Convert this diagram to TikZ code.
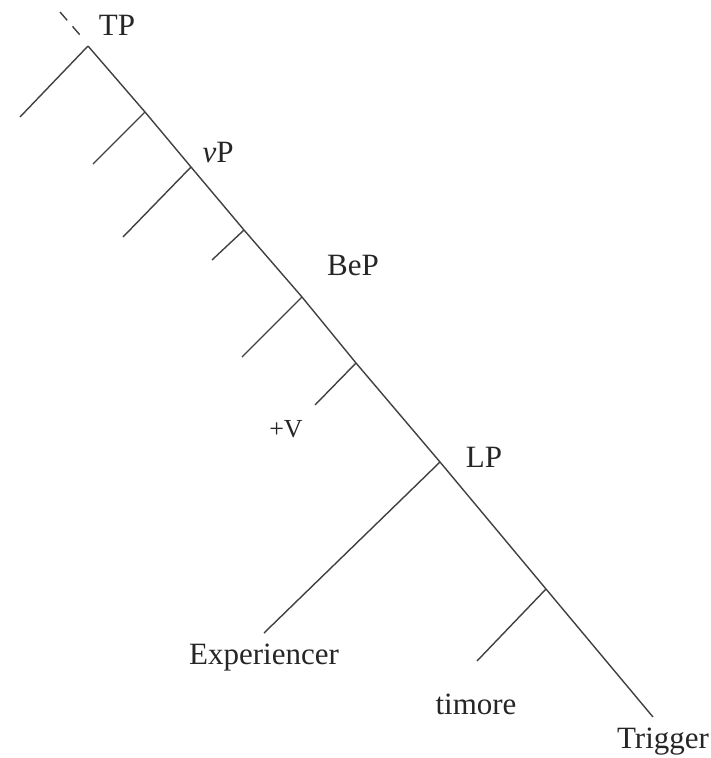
\documentclass[tikz,border=0pt]{standalone}
\usepackage{fontspec}
\setmainfont{Liberation Serif}
\begin{document}
\begin{tikzpicture}[x=1pt,y=-1pt,
  edge/.style={draw=black!75,line width=1.4pt},
  lbl/.style={inner sep=0pt,anchor=base,font=\fontsize{31}{34}\selectfont,text=black!85},
  small/.style={inner sep=0pt,anchor=base,font=\fontsize{26}{29}\selectfont,text=black!85}]
\useasboundingbox (0,0) rectangle (710,758);
% spine points
\coordinate (top) at (60,12);
\coordinate (topend) at (80,35);
\coordinate (tp) at (88,46);
\coordinate (a1) at (145,112);
\coordinate (vp) at (191,167);
\coordinate (a2) at (244,230);
\coordinate (bep) at (302,297);
\coordinate (a3) at (356,363);
\coordinate (lp) at (440,462);
\coordinate (a4) at (546,589);
\coordinate (bot) at (653,717);
% branch ends
\coordinate (b0) at (20,117);
\coordinate (b1) at (93,164);
\coordinate (b2) at (123,237);
\coordinate (b3) at (212,260);
\coordinate (b4) at (242,357);
\coordinate (b5) at (315,405);
\coordinate (b6) at (264,633);
\coordinate (b7) at (477,661);
% dashed continuation
\draw[edge,dash pattern=on 11pt off 8pt] (top) -- (topend);
% spine
\draw[edge] (tp) -- (a1) -- (vp) -- (a2) -- (bep) -- (a3) -- (lp) -- (a4) -- (bot);
% branches
\draw[edge] (tp) -- (b0);
\draw[edge] (a1) -- (b1);
\draw[edge] (vp) -- (b2);
\draw[edge] (a2) -- (b3);
\draw[edge] (bep) -- (b4);
\draw[edge] (a3) -- (b5);
\draw[edge] (lp) -- (b6);
\draw[edge] (a4) -- (b7);
% labels
\node[lbl] (tpl) at (117,35) {TP};
\node[lbl] (vpl) at (218,162) {\textit{v}P};
\node[lbl] (bepl) at (353,275) {BeP};
\node[small] (vl) at (286,437) {+V};
\node[lbl] (lpl) at (484,467) {LP};
\node[lbl] (exp) at (264,664) {Experiencer};
\node[lbl] (tim) at (476,714) {timore};
\node[lbl] (trig) at (663,748) {Trigger};
\end{tikzpicture}
\end{document}
